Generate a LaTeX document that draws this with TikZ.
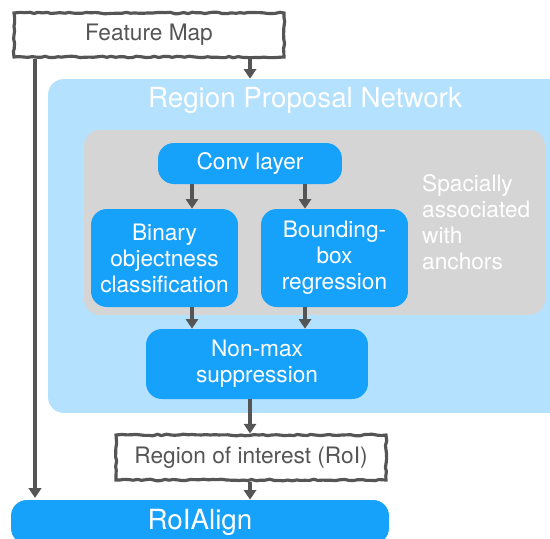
\documentclass[tikz,border=0pt]{standalone}
\usepackage{fontspec}
\setmainfont{TeX Gyre Heros}
\usetikzlibrary{arrows.meta}
\usetikzlibrary{positioning}
\usetikzlibrary{decorations.pathmorphing}
\definecolor{rpnblue}{HTML}{B4E1FD}
\definecolor{boxblue}{HTML}{16A1FB}
\definecolor{anchorgray}{HTML}{D5D5D5}
\definecolor{inkgray}{HTML}{555555}
\tikzset{
	layer/.style={rectangle, fill=boxblue, rounded corners=9pt, text=white, align=center,
		font=\fontsize{12.9}{14.8}\selectfont},
	sketch/.style={rectangle, fill=white, draw=inkgray, line width=1.8pt, text=inkgray,
		decorate, decoration={random steps, segment length=2.5pt, amplitude=0.45pt},
		font=\fontsize{12.9}{14.8}\selectfont},
	panel/.style={rectangle, rounded corners=9pt},
	arrow/.style={draw=inkgray, line width=1.8pt, -{Triangle[length=5.5pt, width=7pt]}}
}

\begin{document}
\begin{tikzpicture}[x=0.02cm, y=-0.02cm]
\useasboundingbox (0,0) rectangle (550,538);

\node[sketch, minimum width=5.4cm, minimum height=0.88cm] (feat) at (149,35) {Feature Map};

\node[panel, fill=rpnblue, minimum width=10.44cm, minimum height=6.68cm] (rpn) at (309,246) {};
\node[text=white, font=\fontsize{15.8}{18}\selectfont] (rpntitle) at (305,100)
	{Region Proposal Network};

\node[panel, fill=anchorgray, minimum width=9.22cm, minimum height=3.7cm] (anchors) at (314.5,222.5) {};

\node[layer, minimum width=3.68cm, minimum height=0.82cm] (conv) at (250,163.5) {Conv layer};

\node[layer, minimum width=2.94cm, minimum height=1.96cm] (binary) at (164.5,258)
	{Binary\\objectness\\classification};

\node[layer, minimum width=2.94cm, minimum height=1.96cm] (bbox) at (334.5,258)
	{Bounding-\\box\\regression};

\node[anchor=west, text=white, align=left, font=\fontsize{12.9}{14.9}\selectfont] (spatial) at (416,222)
	{Spacially\\associated\\with\\anchors};

\node[layer, minimum width=4.44cm, minimum height=1.4cm] (nms) at (257,364)
	{Non-max\\suppression};

\node[sketch, minimum width=5.4cm, minimum height=0.9cm] (roi) at (251,457.5)
	{Region of interest (RoI)};

\node[layer, minimum width=7.56cm, minimum height=0.88cm, font=\fontsize{15.8}{18}\selectfont] (align) at (200,522)
	{RoIAlign};

\coordinate (leftx) at (35,0);
\coordinate (midx) at (250,0);
\coordinate (clsx) at (192,0);
\coordinate (regx) at (305,0);

\draw [arrow] (feat.south -| leftx) -- ([yshift=1pt]align.north -| leftx);
\draw [arrow] (feat.south -| midx) -- (rpn.north -| midx);
\draw [arrow] (conv.south -| clsx) -- (binary.north -| clsx);
\draw [arrow] (conv.south -| regx) -- (bbox.north -| regx);
\draw [arrow] (binary.south -| clsx) -- (nms.north -| clsx);
\draw [arrow] (bbox.south -| regx) -- (nms.north -| regx);
\draw [arrow] (nms.south -| midx) -- (roi.north -| midx);
\draw [arrow] (roi.south -| midx) -- (align.north -| midx);

\end{tikzpicture}
\end{document}
